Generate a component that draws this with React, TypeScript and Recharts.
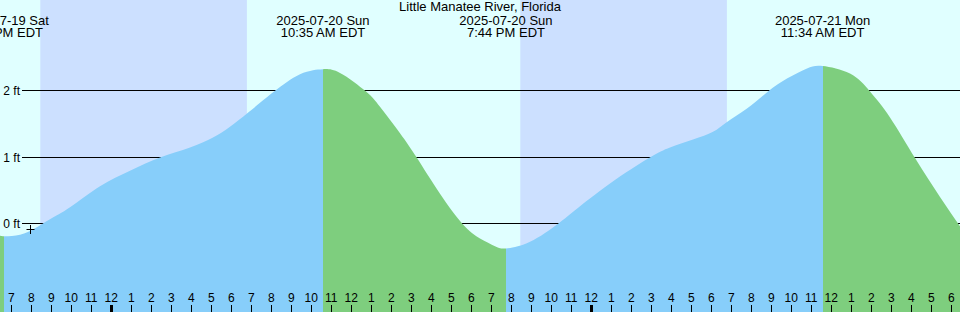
import React from 'react';
import {
  ComposedChart,
  Area,
  XAxis,
  YAxis,
  ReferenceArea,
  ReferenceLine,
  ReferenceDot,
} from 'recharts';

// ---------- data (hours since 2025-07-19 00:00 EDT, feet) ----------
const stationName = 'Little Manatee River, Florida';

const tideTimes = [
  18.435, 18.635, 19.435, 20.185, 20.935, 21.935, 23.435, 24.935, 26.435, 27.935,
  29.085, 29.935, 30.785, 31.435, 32.135, 32.785, 33.435, 34.085, 34.583,
  35.435, 36.735, 37.435, 38.435, 39.285, 40.435, 41.585, 42.435, 43.185, 43.733,
  44.935, 46.285, 47.185, 48.935, 50.885, 51.935, 53.085, 54.085, 54.785, 55.785,
  56.835, 57.785, 58.785, 59.567,
  60.935, 61.935, 62.935, 64.185, 65.435, 66.435,
];
const tideHeights = [
  -0.165, -0.175, -0.153, -0.056, 0.08, 0.26, 0.576, 0.809, 1.007, 1.158,
  1.308, 1.471, 1.669, 1.829, 2.0, 2.144, 2.26, 2.32, 2.335,
  2.28, 2.0, 1.77, 1.373, 1.0, 0.463, 0.0, -0.21, -0.326, -0.36,
  -0.26, 0.0, 0.215, 0.617, 1.0, 1.158, 1.278, 1.393, 1.543, 1.744,
  2.0, 2.195, 2.346, 2.385,
  2.27, 2.0, 1.61, 1.0, 0.415, -0.026,
];

const extremeTimes = [18.635, 34.583, 43.733, 59.567];
const extremeKinds = ['low', 'high', 'low', 'high'];
const extremeDates = ['2025-07-19 Sat', '2025-07-20 Sun', '2025-07-20 Sun', '2025-07-21 Mon'];
const extremeClock = ['6:38 PM EDT', '10:35 AM EDT', '7:44 PM EDT', '11:34 AM EDT'];

const nightStarts = [20.45, 44.45];
const nightEnds = [30.78, 54.78];

const hourTicks = [
  19, 20, 21, 22, 23, 24, 25, 26, 27, 28, 29, 30, 31, 32, 33, 34, 35, 36, 37, 38, 39, 40,
  41, 42, 43, 44, 45, 46, 47, 48, 49, 50, 51, 52, 53, 54, 55, 56, 57, 58, 59, 60, 61, 62,
  63, 64, 65, 66,
];
const hourLabels = hourTicks.map((v) => String(v % 12 === 0 ? 12 : v % 12));

const levelTicks = [0, 1, 2];
const levelLabels = ['0 ft', '1 ft', '2 ft'];

const markerTime = 19.97;
const markerLevel = -0.07;

// ---------- layout / style ----------
const W = 960;
const H = 312;
const timeMin = 18.435;
const timeMax = 66.435;
const levelMin = -1.3158;
const levelMax = 3.3759;

const BG = '#E0FFFF';
const NIGHT = '#CCE0FF';
const RISE = '#87CEFA';
const FALL = '#7ECE7E';
const FONT = '"Liberation Sans", Arial, Helvetica, sans-serif';

const data = tideTimes.map((t, i) => ({ t, h: tideHeights[i] }));

const frac = (t: number) => (t - timeMin) / (timeMax - timeMin);
const gradientStops: { o: number; c: string }[] = (() => {
  let color = extremeKinds[0] === 'low' ? FALL : RISE;
  const s = [{ o: 0, c: color }];
  extremeTimes.forEach((t, i) => {
    const o = frac(t);
    s.push({ o, c: color });
    color = extremeKinds[i] === 'low' ? RISE : FALL;
    s.push({ o, c: color });
  });
  s.push({ o: 1, c: color });
  return s;
})();

const LevelLine = (p: any) => {
  const y = Math.floor(p.y1 - 0.5) + 0.5;
  return <line x1={22} x2={p.x2} y1={y} y2={y} stroke="#000" strokeWidth={1} />;
};

const CrossMark = (p: any) => {
  const cx = Math.floor(p.cx) + 0.5;
  const cy = Math.floor(p.cy) + 0.5;
  return (
    <path
      d={`M${cx - 4},${cy}H${cx + 4}M${cx},${cy - 4.5}V${cy + 4.5}`}
      stroke="#000"
      strokeWidth={1}
      fill="none"
    />
  );
};

export default function App() {
  return (
    <div
      style={{
        position: 'absolute',
        left: 0,
        top: 0,
        width: W,
        height: H,
        background: BG,
        overflow: 'hidden',
      }}
    >
      <ComposedChart
        width={W}
        height={H}
        data={data}
        margin={{ top: 0, right: 0, bottom: 0, left: 0 }}
      >
        <defs>
          <linearGradient id="tideFill" gradientUnits="userSpaceOnUse" x1={0} y1={0} x2={W} y2={0}>
            {gradientStops.map((s, i) => (
              <stop key={i} offset={s.o} stopColor={s.c} stopOpacity={1} />
            ))}
          </linearGradient>
        </defs>
        <XAxis
          dataKey="t"
          type="number"
          domain={[timeMin, timeMax]}
          allowDataOverflow
          hide
          height={0}
        />
        <YAxis type="number" domain={[levelMin, levelMax]} allowDataOverflow hide width={0} />
        {nightStarts.map((s, i) => (
          <ReferenceArea
            key={`n${i}`}
            x1={s}
            x2={nightEnds[i]}
            fill={NIGHT}
            fillOpacity={1}
            stroke="none"
            ifOverflow="visible"
            zIndex={-50}
          />
        ))}
        {levelTicks.map((lv, i) => (
          <ReferenceLine
            key={`l${i}`}
            y={lv}
            stroke="#000"
            shape={LevelLine}
            zIndex={-40}
            label={{
              value: levelLabels[i],
              content: (p: any) => (
                <text
                  x={20}
                  y={Math.floor(p.viewBox.y - 0.5) + 0.5}
                  textAnchor="end"
                  dominantBaseline="central"
                  fontSize={12}
                  fontFamily={FONT}
                  fill="#000"
                >
                  {levelLabels[i]}
                </text>
              ),
            }}
          />
        ))}
        <Area
          dataKey="h"
          type="natural"
          stroke="none"
          fill="url(#tideFill)"
          fillOpacity={1}
          baseValue="dataMin"
          dot={false}
          activeDot={false}
          isAnimationActive={false}
        />
        {extremeTimes.map((t, i) => (
          <ReferenceLine
            key={`e${i}`}
            x={t}
            stroke="none"
            strokeOpacity={0}
            label={{
              value: extremeDates[i],
              content: (p: any) => (
                <g>
                  <text
                    x={p.viewBox.x}
                    y={24.5}
                    textAnchor="middle"
                    fontSize={13}
                    fontFamily={FONT}
                    fill="#000"
                  >
                    {extremeDates[i]}
                  </text>
                  <text
                    x={p.viewBox.x}
                    y={36.5}
                    textAnchor="middle"
                    fontSize={13}
                    fontFamily={FONT}
                    fill="#000"
                  >
                    {extremeClock[i]}
                  </text>
                </g>
              ),
            }}
          />
        ))}
        {hourTicks.map((h, i) => (
          <ReferenceLine
            key={`h${i}`}
            x={h}
            stroke="none"
            zIndex={1000}
            shape={(p: any) => {
              const midnight = h % 24 === 0;
              const x = Math.round(p.x1);
              return (
                <rect
                  x={midnight ? x - 1 : x}
                  y={H - 7}
                  width={midnight ? 3 : 1}
                  height={7}
                  fill="#000"
                />
              );
            }}
            label={{
              value: hourLabels[i],
              content: (p: any) => (
                <text
                  x={p.viewBox.x}
                  y={H - 10}
                  textAnchor="middle"
                  fontSize={12}
                  fontFamily={FONT}
                  fill="#000"
                >
                  {hourLabels[i]}
                </text>
              ),
            }}
          />
        ))}
        <ReferenceDot
          x={markerTime}
          y={markerLevel}
          r={4}
          shape={CrossMark}
          ifOverflow="visible"
        />
      </ComposedChart>
      <div
        style={{
          position: 'absolute',
          left: 0,
          top: 0,
          width: W,
          textAlign: 'center',
          fontFamily: FONT,
          fontSize: 13,
          lineHeight: '14px',
          color: '#000',
          pointerEvents: 'none',
        }}
      >
        {stationName}
      </div>
    </div>
  );
}
